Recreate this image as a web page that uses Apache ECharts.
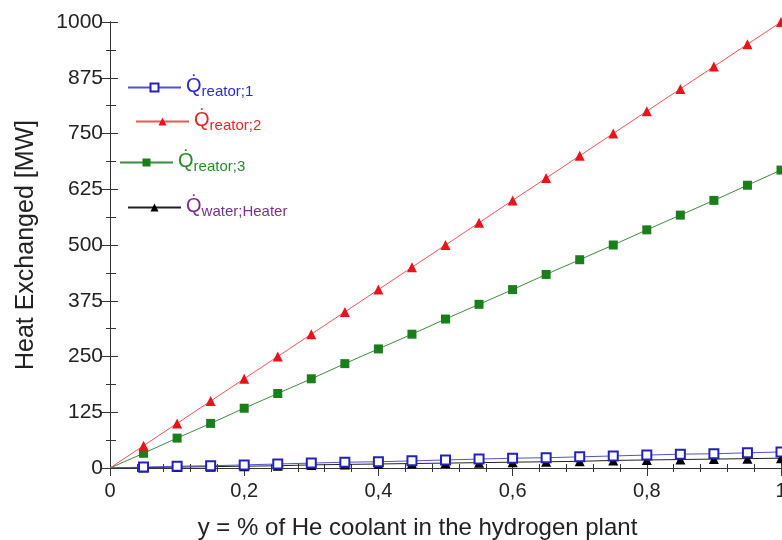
<!DOCTYPE html>
<html>
<head>
<meta charset="utf-8">
<script src="https://cdn.jsdelivr.net/npm/echarts@6/dist/echarts.min.js"></script>
<style>html,body{margin:0;padding:0;background:#fff}#c{width:782px;height:540px}</style>
</head>
<body>
<div id="c"></div>
<script>
var xValues = [0, 0.05, 0.1, 0.15, 0.2, 0.25, 0.3, 0.35, 0.4, 0.45, 0.5, 0.55, 0.6, 0.65, 0.7, 0.75, 0.8, 0.85, 0.9, 0.95, 1];
var qReator1 = [0, 2, 4, 5, 7, 9, 11, 13, 14, 16, 18, 20, 22, 23, 25, 27, 29, 31, 32, 34, 36];
var qReator2 = [0, 50, 100, 150, 200, 250, 300, 350, 400, 450, 500, 550, 600, 650, 700, 750, 800, 850, 900, 950, 1000];
var qReator3 = [0, 33, 67, 100, 134, 167, 200, 234, 267, 300, 334, 367, 400, 434, 467, 500, 534, 567, 600, 634, 668];
var qWaterHeater = [0, 1, 2, 3, 4, 5, 7, 8, 9, 10, 11, 12, 13, 14, 15, 17, 18, 19, 20, 21, 22];
var seriesNames = ['reator;1', 'reator;2', 'reator;3', 'water;Heater'];
var yTicks = [0, 125, 250, 375, 500, 625, 750, 875, 1000];

function pairs(vals) {
  return xValues.map(function (x, i) {
    var d = { value: [x, vals[i]] };
    if (i === 0) d.symbol = 'none';
    return d;
  });
}

var textColors = ['#2b2bd6', '#e8262b', '#2a8a2a', '#7b2f8c'];
var allVals = [qReator1, qReator2, qReator3, qWaterHeater];
var lineColors = ['#5050d8', '#f05555', '#3f8a3f', '#222222'];
var markColors = ['#2222bb', '#e8141c', '#1a7f1a', '#000000'];
var symbols = ['emptyRect', 'triangle', 'rect', 'triangle'];
var symSizes = [9, 10, 9, 10];

var series = seriesNames.map(function (n, i) {
  return {
    name: n,
    type: 'line',
    data: pairs(allVals[i]),
    symbol: symbols[i],
    symbolSize: symSizes[i],
    showAllSymbol: true,
    lineStyle: { color: lineColors[i], width: 1 },
    itemStyle: { color: markColors[i], borderColor: markColors[i], borderWidth: i === 0 ? 1.5 : 0 },
    z: 10 - i,
    animation: false
  };
});

var legendPos = [[127, 76], [135, 110], [119, 151], [127, 196]];
var legends = seriesNames.map(function (n, i) {
  return {
    data: [n],
    left: legendPos[i][0],
    top: legendPos[i][1],
    padding: 0,
    orient: 'vertical',
    itemWidth: 53,
    itemHeight: 10,
    itemGap: 5,
    selectedMode: false,
    formatter: function (name) { return '{q|Q\u0307}{s|' + name + '}'; },
    textStyle: {
      color: textColors[i],
      rich: {
        q: { fontSize: 20, fontFamily: 'Liberation Sans', color: textColors[i], padding: [0, 0, 3, 0], verticalAlign: 'bottom' },
        s: { fontSize: 15, fontFamily: 'Liberation Sans', color: textColors[i], verticalAlign: 'bottom' }
      }
    }
  };
});

var axisLineStyle = { color: '#333', width: 1 };
var chart = echarts.init(document.getElementById('c'));
chart.setOption({
  backgroundColor: '#fff',
  animation: false,
  textStyle: { fontFamily: 'Liberation Sans' },
  grid: { left: 110, right: 1, top: 22, bottom: 72, containLabel: false, outerBoundsMode: 'none' },
  legend: legends,
  xAxis: [{
    type: 'value', min: 0, max: 1, interval: 0.2,
    name: 'y = % of He coolant in the hydrogen plant',
    nameLocation: 'middle', nameGap: 48,
    nameTextStyle: { fontSize: 24, color: '#222', padding: [0, 56, 0, 0] },
    axisLine: { lineStyle: axisLineStyle },
    axisTick: { inside: true, length: 8, lineStyle: axisLineStyle },
    minorTick: { show: true, splitNumber: 5, length: 4, lineStyle: axisLineStyle },
    splitLine: { show: false },
    axisLabel: { fontSize: 20, color: '#222', margin: 13, formatter: function (v) { return String(+v.toFixed(1)).replace('.', ','); } }
  }, {
    type: 'value', min: 0, max: 1, interval: 0.2, position: 'top',
    axisLine: { show: true, lineStyle: axisLineStyle },
    axisTick: { inside: true, length: 8, lineStyle: axisLineStyle },
    minorTick: { show: true, splitNumber: 5, length: 4, lineStyle: axisLineStyle },
    splitLine: { show: false },
    axisLabel: { show: false }
  }],
  yAxis: [{
    type: 'value', min: yTicks[0], max: yTicks[yTicks.length - 1], interval: 125,
    name: 'Heat Exchanged [MW]',
    nameLocation: 'middle', nameGap: 71,
    nameTextStyle: { fontSize: 25, color: '#222' },
    axisLine: { show: true, lineStyle: axisLineStyle },
    axisTick: { inside: true, length: 8, lineStyle: axisLineStyle },
    minorTick: { show: true, splitNumber: 2, length: 6, lineStyle: axisLineStyle },
    splitLine: { show: false },
    axisLabel: { fontSize: 21, color: '#222', margin: 7, formatter: function (v) { return String(v); } }
  }, {
    type: 'value', min: 0, max: 1000, interval: 125, position: 'right',
    axisLine: { show: true, lineStyle: axisLineStyle },
    axisTick: { inside: true, length: 8, lineStyle: axisLineStyle },
    minorTick: { show: true, splitNumber: 2, length: 4, lineStyle: axisLineStyle },
    splitLine: { show: false },
    axisLabel: { show: false }
  }],
  series: series
});
</script>
</body>
</html>
